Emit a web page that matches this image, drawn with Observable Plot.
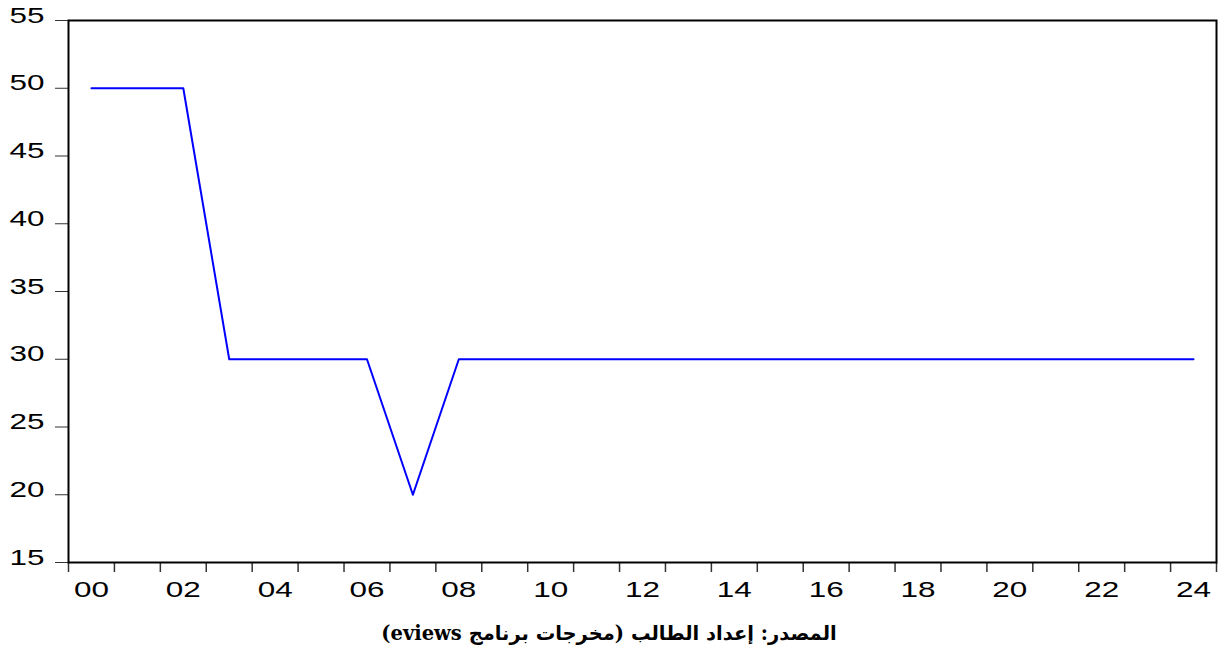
<!DOCTYPE html>
<html>
<head>
<meta charset="utf-8">
<script src="https://cdn.jsdelivr.net/npm/d3@7"></script>
<script src="https://cdn.jsdelivr.net/npm/@observablehq/plot@0.6"></script>
<style>
  html, body { margin: 0; padding: 0; background: #fff; }
  #chart svg { display: block; }
  #caption {
    width: 1218px; text-align: center; direction: rtl;
    font-family: "DejaVu Serif", "DejaVu Sans", serif; font-weight: bold;
    font-size: 19.5px; line-height: 40px; color: #000; margin-top: 4px;
  }
</style>
</head>
<body>
<div id="chart"></div>
<div id="caption">المصدر: إعداد الطالب (مخرجات برنامج eviews)</div>
<script>
const years = ["00","01","02","03","04","05","06","07","08","09","10","11","12","13","14","15","16","17","18","19","20","21","22","23","24"];
const values = [50,50,50,30,30,30,30,20,30,30,30,30,30,30,30,30,30,30,30,30,30,30,30,30,30];
const yTicks = [15,20,25,30,35,40,45,50,55];
const xLabels = ["00","02","04","06","08","10","12","14","16","18","20","22","24"];

const data = years.map((y, i) => ({i, year: y, value: values[i]}));
const boundaries = d3.range(years.length + 1).map(k => k - 0.5);
const labelPos = xLabels.map(l => years.indexOf(l));

const chart = Plot.plot({
  width: 1218,
  height: 610,
  marginLeft: 68,
  marginRight: 2,
  marginTop: 20,
  marginBottom: 48,
  style: {fontFamily: "'Liberation Sans', Arial, sans-serif", fontSize: "22px", color: "#000", background: "#fff"},
  x: {domain: [-0.5, years.length - 0.5], axis: null},
  y: {domain: [15, 55], axis: null},
  marks: [
    Plot.axisY(yTicks, {tickSize: 13, tickFormat: () => "", stroke: "#333", label: null}),
    Plot.axisY(yTicks, {tickSize: 0, tickPadding: 24, fontSize: 22, dy: -5, label: null}),
    Plot.axisX(boundaries, {tickSize: 10, tickFormat: () => "", stroke: "#333", strokeWidth: 1.5, label: null}),
    Plot.axisX(labelPos, {tickSize: 0, tickPadding: 19, tickFormat: d => years[d], fontSize: 22, label: null}),
    Plot.frame({stroke: "#000", strokeWidth: 2}),
    Plot.line(data, {x: "i", y: "value", stroke: "#0000ff", strokeWidth: 2})
  ]
});
document.getElementById("chart").append(chart);
// widen digit labels to match the stretched look of the original
d3.select(chart).selectAll("text").each(function() {
  const t = d3.select(this);
  if (/^\d\d$/.test(t.text())) t.attr("textLength", 35).attr("lengthAdjust", "spacingAndGlyphs");
});
</script>
</body>
</html>
